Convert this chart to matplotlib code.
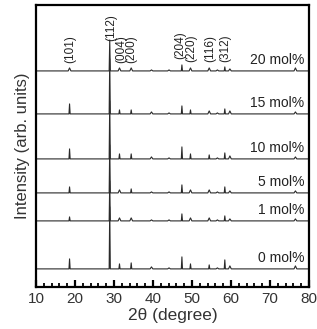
import matplotlib.pyplot as plt
import numpy as np

plt.rcParams['font.family'] = ['Liberation Sans', 'DejaVu Sans']

# peak positions (2theta, degree)
peak_pos = [18.6, 28.9, 31.4, 34.4, 39.6, 44.1, 47.4, 49.6, 54.4, 56.5, 58.4, 59.7, 76.5]

# peak heights per sample (px-like units), baseline offsets
samples = ['0 mol%', '1 mol%', '5 mol%', '10 mol%', '15 mol%', '20 mol%']
offsets = [18, 66, 94, 128, 173, 216]
h_0 = [10, 62, 5, 6, 2, 1, 12, 5, 4, 1, 9, 3, 3]
h_1 = [4, 40, 3, 3, 1, 1, 7, 3, 3, 1, 5, 2, 2]
h_5 = [6, 48, 3, 4, 1, 1, 8, 3, 3, 1, 6, 2, 2]
h_10 = [10, 58, 5, 5, 2, 1, 12, 5, 4, 1, 6, 3, 2]
h_15 = [10, 55, 4, 4, 2, 1, 8, 4, 3, 1, 5, 3, 2]
h_20 = [3, 31, 3, 3, 1, 1, 6, 3, 3, 1, 4, 2, 3]
heights = [h_0, h_1, h_5, h_10, h_15, h_20]

# peak labels
hkl = ['(101)', '(112)', '(004)', '(200)', '(204)', '(220)', '(116)', '(312)']
hkl_x = [18.8, 29.2, 31.8, 34.5, 46.9, 49.9, 54.6, 58.5]
hkl_y = [224, 246, 224, 224, 228, 225, 225, 225]


def spectrum(base, hs):
    xs = [10]
    ys = [base]
    for p, h in zip(peak_pos, hs):
        w = 0.35 if h <= 3 else 0.15
        xs += [p - w, p, p + w]
        ys += [base, base + h, base]
    xs.append(80)
    ys.append(base)
    return xs, ys


fig = plt.figure(figsize=(3.17, 3.29), dpi=100)
ax = fig.add_axes([0.1136, 0.128, 0.8614, 0.857])

for name, off, hs in zip(samples, offsets, heights):
    xs, ys = spectrum(off, hs)
    ax.plot(xs, ys, color='#2a2a2a', lw=0.8)
    ax.text(78.7, off + 4, name, ha='right', va='bottom', fontsize=10, color='#222222')

for t, x, y in zip(hkl, hkl_x, hkl_y):
    ax.text(x, y, t, rotation=90, ha='center', va='bottom', fontsize=8.5, color='#222222')

ax.set_xlim(10, 80)
ax.set_ylim(0, 282)
ax.set_xticks(np.arange(10, 81, 10))
ax.set_xticks(np.arange(10, 81, 2), minor=True)
ax.set_yticks([])
ax.tick_params(axis='x', which='major', direction='in', length=5, width=1.6, labelsize=11,
               labelcolor='#333333', pad=4)
ax.tick_params(axis='x', which='minor', direction='in', length=3, width=1.3)
for s in ax.spines.values():
    s.set_linewidth(1.6)

ax.set_xlabel('2θ (degree)', fontsize=12.5, color='#333333', labelpad=1)
ax.set_ylabel('Intensity (arb. units)', fontsize=12, color='#333333', labelpad=4)

plt.savefig('out.png', dpi=100)
